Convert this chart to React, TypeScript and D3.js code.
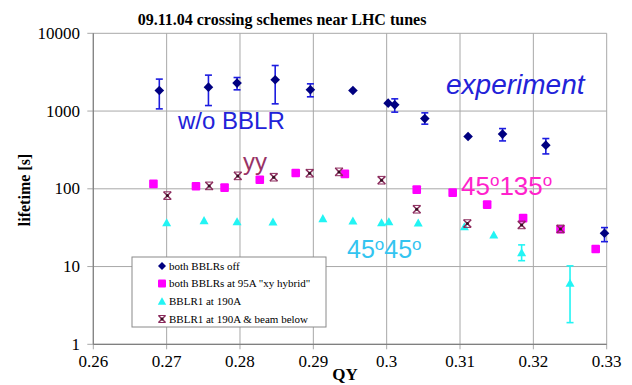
import React from "react";
import * as d3 from "d3";

// ---- data ----
const xTicks = [0.26, 0.27, 0.28, 0.29, 0.3, 0.31, 0.32, 0.33];
const yTicks = [1, 10, 100, 1000, 10000];

const offQ = [0.2690, 0.2757, 0.2796, 0.2848, 0.2896, 0.2954, 0.3002, 0.3011, 0.3052, 0.3111, 0.3158, 0.3217, 0.3297];
const offLife = [1836, 2031, 2287, 2522, 1875, 1836, 1264, 1202, 800, 470, 505, 364, 26.8];
const offLo: (number | null)[] = [1067, 1177, 1875, 1238, 1524, null, null, 968, 678, null, 413, 281, 20.9];
const offHi: (number | null)[] = [2575, 2897, 2699, 3853, 2239, null, null, 1435, 948, null, 595, 443, 31.7];

const hybridQ = [0.2682, 0.2740, 0.2779, 0.2827, 0.2876, 0.2943, 0.3041, 0.3090, 0.3137, 0.3186, 0.3237, 0.3285];
const hybridLife = [115.6, 108, 103.6, 131, 160, 155.5, 97.7, 89.4, 62.6, 41.9, 30.2, 16.8];

const bblrQ = [0.2700, 0.2751, 0.2796, 0.2845, 0.2913, 0.2954, 0.2993, 0.3003, 0.3043, 0.3106, 0.3146, 0.3184, 0.3250];
const bblrLife = [36.7, 39, 37.8, 37.5, 41.4, 38.6, 36.7, 37.8, 36.4, 32.6, 25.5, 15.1, 6.1];
const bblrLo: (number | null)[] = [null, null, null, null, null, null, null, null, null, null, null, 11.9, 1.9];
const bblrHi: (number | null)[] = [null, null, null, null, null, null, null, null, null, null, null, 19, 10.2];

const belowQ = [0.2701, 0.2758, 0.2797, 0.2846, 0.2895, 0.2935, 0.2993, 0.3041, 0.3110, 0.3184, 0.3237];
const belowLife = [81.7, 109, 146.6, 141, 158.7, 165, 129, 54.6, 35.7, 34.3, 30.5];

const legendLabels = [
  "both BBLRs off",
  'both BBLRs at 95A "xy hybrid"',
  "BBLR1 at 190A",
  "BBLR1 at 190A & beam below",
];

const C_NAVY = "#000080";
const C_BLUE = "#1c1ce0";
const C_MAG = "#ff00ff";
const C_CYAN = "#22f4f4";
const C_PURP = "#8b2a5c";

const x = d3.scaleLinear().domain([0.26, 0.33]).range([93.3, 606.7]);
const y = d3.scaleLog().domain([1, 10000]).range([344.3, 33.3]);

const serif = "Liberation Serif, Times New Roman, Times, serif";
const sans = "Liberation Sans, Arial, sans-serif";

function Diamond({ cx, cy, s = 4.8, fill }: any) {
  return <path d={`M${cx},${cy - s}L${cx + s},${cy}L${cx},${cy + s}L${cx - s},${cy}Z`} fill={fill} />;
}
function Square({ cx, cy, s = 4.3, fill }: any) {
  return <rect x={cx - s} y={cy - s} width={2 * s} height={2 * s} rx={1} fill={fill} />;
}
function Tri({ cx, cy, s = 4.5, fill }: any) {
  return <path d={`M${cx},${cy - s}L${cx + s},${cy + s * 0.8}L${cx - s},${cy + s * 0.8}Z`} fill={fill} />;
}
function Star({ cx, cy, s = 3.8, stroke }: any) {
  return (
    <g stroke={stroke} strokeWidth={1.5}>
      <line x1={cx - s} y1={cy - s} x2={cx + s} y2={cy + s} />
      <line x1={cx - s} y1={cy + s} x2={cx + s} y2={cy - s} />
      <line x1={cx - s} y1={cy - s} x2={cx + s} y2={cy - s} strokeWidth={1} />
      <line x1={cx - s} y1={cy + s} x2={cx + s} y2={cy + s} strokeWidth={1} />
      <circle cx={cx} cy={cy} r={1.5} fill="#331020" stroke="none" />
    </g>
  );
}
function ErrBar({ q, lo, hi, color }: any) {
  const cx = x(q);
  const y1 = y(hi);
  const y2 = y(lo);
  return (
    <g stroke={color} strokeWidth={1.6}>
      <line x1={cx} x2={cx} y1={y1} y2={y2} />
      <line x1={cx - 3.5} x2={cx + 3.5} y1={y1} y2={y1} />
      <line x1={cx - 3.5} x2={cx + 3.5} y1={y2} y2={y2} />
    </g>
  );
}

export default function App() {
  const [x0, x1] = x.range();
  const [yb, yt] = y.range();
  return (
    <svg width={632} height={385} style={{ position: "absolute", left: 0, top: 0, background: "#fff" }}>
      <rect width={632} height={385} fill="#fff" />
      {/* title */}
      <text x={282} y={25} textAnchor="middle" fontFamily={serif} fontWeight="bold" fontSize={16}>
        09.11.04 crossing schemes near LHC tunes
      </text>
      {/* grid */}
      {xTicks.map((t) => (
        <line key={"gx" + t} x1={x(t)} x2={x(t)} y1={yt} y2={yb + 5} stroke="#a8a8a8" strokeWidth={1} />
      ))}
      {yTicks.map((t) => (
        <line key={"gy" + t} x1={x0 - 6} x2={x1} y1={y(t)} y2={y(t)} stroke="#a8a8a8" strokeWidth={1} />
      ))}
      {/* axes */}
      <line x1={x0} x2={x0} y1={yt} y2={yb} stroke="#808080" strokeWidth={1.2} />
      <line x1={x0} x2={x1} y1={yb} y2={yb} stroke="#808080" strokeWidth={1.2} />
      {xTicks.map((t) => (
        <text key={"xl" + t} x={x(t)} y={367} textAnchor="middle" fontFamily={serif} fontSize={17}>
          {d3.format("")(+t.toFixed(2))}
        </text>
      ))}
      {yTicks.map((t) => (
        <text key={"yl" + t} x={80} y={y(t) + 5.5} textAnchor="end" fontFamily={serif} fontSize={17}>
          {t}
        </text>
      ))}
      <text x={345} y={380} textAnchor="middle" fontFamily={serif} fontWeight="bold" fontSize={17}>
        QY
      </text>
      <text
        transform={`translate(30,190) rotate(-90)`}
        textAnchor="middle"
        fontFamily={serif}
        fontWeight="bold"
        fontSize={16}
      >
        lifetime [s]
      </text>

      {/* series: hybrid */}
      {hybridQ.map((q, i) => (
        <Square key={"h" + i} cx={x(q)} cy={y(hybridLife[i])} fill={C_MAG} />
      ))}
      {/* series: BBLR1 */}
      {bblrQ.map((q, i) =>
        bblrLo[i] != null ? <ErrBar key={"be" + i} q={q} lo={bblrLo[i]} hi={bblrHi[i]} color={C_CYAN} /> : null
      )}
      {bblrQ.map((q, i) => (
        <Tri key={"b" + i} cx={x(q)} cy={y(bblrLife[i])} fill={C_CYAN} />
      ))}
      {/* series: beam below */}
      {belowQ.map((q, i) => (
        <Star key={"s" + i} cx={x(q)} cy={y(belowLife[i])} stroke={C_PURP} />
      ))}
      {/* series: off */}
      {offQ.map((q, i) =>
        offLo[i] != null ? <ErrBar key={"oe" + i} q={q} lo={offLo[i]} hi={offHi[i]} color={C_BLUE} /> : null
      )}
      {offQ.map((q, i) => (
        <Diamond key={"o" + i} cx={x(q)} cy={y(offLife[i])} fill={C_NAVY} />
      ))}

      {/* annotations */}
      <text x={178} y={129} fontFamily={sans} fontSize={24} fill="#2222d8">w/o BBLR</text>
      <text x={446} y={94} fontFamily={sans} fontStyle="italic" fontSize={28} fill="#2222d8">experiment</text>
      <text x={243} y={170} fontFamily={sans} fontSize={24} fill="#993366">yy</text>
      <text x={461} y={195} fontFamily={sans} fontSize={26} fill="#ff22cc">
        45<tspan fontSize={17} dy={-9}>o</tspan>
        <tspan dy={9}>135</tspan>
        <tspan fontSize={17} dy={-9}>o</tspan>
      </text>
      <text x={347} y={258} fontFamily={sans} fontSize={25} fill="#33c4f0">
        45<tspan fontSize={17} dy={-8}>o</tspan>
        <tspan dy={8}>45</tspan>
        <tspan fontSize={17} dy={-8}>o</tspan>
      </text>

      {/* legend */}
      <rect x={132} y={257} width={194} height={70} fill="#fff" stroke="#8a8a8a" strokeWidth={1} />
      {legendLabels.map((l, i) => {
        const cy = [266, 283.5, 301.5, 319][i];
        return (
          <g key={"lg" + i}>
            {i === 0 && <Diamond cx={162} cy={cy} s={4} fill={C_NAVY} />}
            {i === 1 && <Square cx={162} cy={cy} s={4} fill={C_MAG} />}
            {i === 2 && <Tri cx={162} cy={cy} s={4.2} fill={C_CYAN} />}
            {i === 3 && <Star cx={162} cy={cy} s={3.5} stroke={C_PURP} />}
            <text x={169} y={cy + 3.5} fontFamily={serif} fontSize={11}>
              {l}
            </text>
          </g>
        );
      })}
    </svg>
  );
}
